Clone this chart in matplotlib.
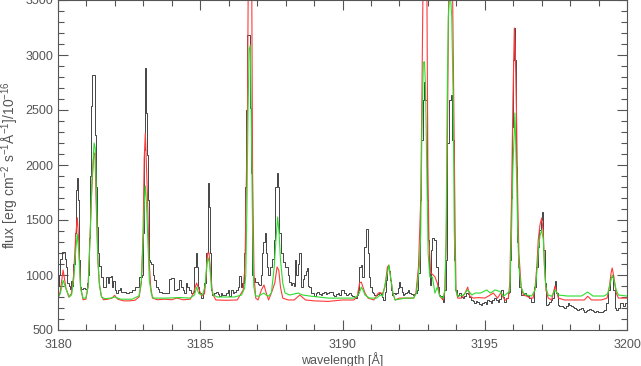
import matplotlib.pyplot as plt
from matplotlib.ticker import MultipleLocator

# observed spectrum (black histogram)
obs_wl = [3180.00, 3180.05, 3180.10, 3180.15, 3180.22, 3180.27, 3180.31, 3180.35, 3180.40, 3180.44,
          3180.48, 3180.52, 3180.56, 3180.60, 3180.64, 3180.68, 3180.71, 3180.75, 3180.80, 3180.85,
          3180.92, 3180.98, 3181.04, 3181.08, 3181.11, 3181.15, 3181.18, 3181.23, 3181.29, 3181.32,
          3181.36, 3181.39, 3181.43, 3181.48, 3181.54, 3181.59, 3181.65, 3181.71, 3181.77, 3181.83,
          3181.89, 3181.93, 3181.97, 3182.01, 3182.07, 3182.13, 3182.20, 3182.26, 3182.35, 3182.45,
          3182.55, 3182.65, 3182.78, 3182.90, 3182.97, 3183.00, 3183.03, 3183.06, 3183.09, 3183.11,
          3183.14, 3183.18, 3183.21, 3183.26, 3183.31, 3183.36, 3183.41, 3183.47, 3183.53, 3183.58,
          3183.64, 3183.70, 3183.76, 3183.82, 3183.88, 3183.94, 3184.00, 3184.06, 3184.11, 3184.17,
          3184.23, 3184.29, 3184.35, 3184.41, 3184.47, 3184.52, 3184.58, 3184.64, 3184.70, 3184.76,
          3184.82, 3184.87, 3184.91, 3184.95, 3184.99, 3185.05, 3185.11, 3185.17, 3185.23, 3185.28,
          3185.32, 3185.35, 3185.40, 3185.46, 3185.52, 3185.58, 3185.64, 3185.69, 3185.75, 3185.81,
          3185.87, 3185.93, 3185.99, 3186.05, 3186.11, 3186.16, 3186.22, 3186.28, 3186.34, 3186.40,
          3186.46, 3186.51, 3186.56, 3186.60, 3186.64, 3186.68, 3186.73, 3186.77, 3186.80, 3186.84,
          3186.90, 3186.98, 3187.05, 3187.10, 3187.15, 3187.20, 3187.24, 3187.28, 3187.32, 3187.37,
          3187.42, 3187.49, 3187.55, 3187.60, 3187.66, 3187.72, 3187.76, 3187.79, 3187.86, 3187.95,
          3188.04, 3188.10, 3188.15, 3188.21, 3188.27, 3188.31, 3188.35, 3188.40, 3188.46, 3188.51,
          3188.57, 3188.62, 3188.67, 3188.73, 3188.78, 3188.82, 3188.86, 3188.92, 3188.97, 3189.03,
          3189.09, 3189.15, 3189.21, 3189.27, 3189.32, 3189.38, 3189.44, 3189.50, 3189.56, 3189.62,
          3189.68, 3189.74, 3189.80, 3189.85, 3189.91, 3189.97, 3190.03, 3190.09, 3190.15, 3190.21,
          3190.26, 3190.32, 3190.38, 3190.43, 3190.47, 3190.52, 3190.56, 3190.61, 3190.67, 3190.73,
          3190.79, 3190.85, 3190.91, 3190.94, 3191.00, 3191.04, 3191.08, 3191.14, 3191.20, 3191.26,
          3191.32, 3191.38, 3191.42, 3191.46, 3191.51, 3191.55, 3191.60, 3191.65, 3191.69, 3191.73,
          3191.77, 3191.81, 3191.86, 3191.91, 3191.96, 3192.00, 3192.06, 3192.10, 3192.14, 3192.19,
          3192.23, 3192.27, 3192.31, 3192.36, 3192.40, 3192.45, 3192.49, 3192.54, 3192.58, 3192.64,
          3192.70, 3192.75, 3192.79, 3192.84, 3192.89, 3192.93, 3192.98, 3193.02, 3193.05, 3193.09,
          3193.13, 3193.19, 3193.25, 3193.31, 3193.37, 3193.42, 3193.46, 3193.50, 3193.54, 3193.60,
          3193.66, 3193.72, 3193.78, 3193.84, 3193.88, 3193.93, 3193.98, 3194.05, 3194.09, 3194.13,
          3194.19, 3194.25, 3194.31, 3194.37, 3194.42, 3194.48, 3194.54, 3194.60, 3194.66, 3194.72,
          3194.77, 3194.83, 3194.89, 3194.95, 3195.01, 3195.07, 3195.12, 3195.18, 3195.24, 3195.30,
          3195.36, 3195.42, 3195.48, 3195.54, 3195.60, 3195.66, 3195.71, 3195.77, 3195.83, 3195.88,
          3195.92, 3195.95, 3195.98, 3196.01, 3196.04, 3196.09, 3196.12, 3196.15, 3196.18, 3196.24,
          3196.32, 3196.41, 3196.47, 3196.53, 3196.59, 3196.65, 3196.71, 3196.77, 3196.83, 3196.88,
          3196.94, 3197.00, 3197.04, 3197.08, 3197.13, 3197.20, 3197.25, 3197.29, 3197.34, 3197.39,
          3197.45, 3197.49, 3197.53, 3197.59, 3197.65, 3197.71, 3197.77, 3197.82, 3197.88, 3197.94,
          3198.00, 3198.06, 3198.11, 3198.17, 3198.23, 3198.29, 3198.35, 3198.41, 3198.47, 3198.52,
          3198.58, 3198.64, 3198.70, 3198.76, 3198.82, 3198.88, 3198.94, 3198.99, 3199.05, 3199.11,
          3199.17, 3199.23, 3199.31, 3199.38, 3199.44, 3199.48, 3199.54, 3199.59, 3199.66, 3199.73,
          3199.81, 3199.89, 3199.98]
obs_flux = [900, 1000, 1150, 1210, 1210, 1150, 1070, 930, 900, 870,
            950, 900, 1100, 1380, 1770, 1880, 1680, 1140, 890, 870,
            880, 870, 930, 1000, 1340, 1900, 2540, 2820, 2820, 2270,
            1800, 1440, 1200, 1080, 980, 890, 890, 980, 930, 980,
            990, 890, 950, 860, 840, 860, 880, 850, 850, 840,
            850, 860, 890, 980, 1000, 1380, 2140, 2880, 2880, 2470,
            2090, 1680, 1140, 1120, 1100, 1000, 955, 890, 870, 850,
            845, 836, 836, 840, 836, 960, 975, 970, 864, 864,
            870, 955, 890, 864, 836, 927, 890, 864, 836, 850,
            1073, 1200, 1073, 890, 836, 791, 836, 927, 1200, 1836,
            1620, 1200, 864, 818, 836, 850, 830, 807, 836, 818,
            818, 836, 864, 807, 864, 836, 850, 864, 890, 990,
            890, 927, 1200, 1800, 2500, 3180, 3180, 2520, 1930, 1000,
            973, 936, 920, 909, 1000, 1200, 1300, 1382, 1200, 1073,
            1000, 1073, 1150, 1318, 1800, 1927, 1800, 1382, 1200, 1118,
            1073, 1000, 936, 909, 927, 900, 1136, 1000, 1100, 1200,
            890, 960, 1000, 1040, 1064, 900, 890, 836, 840, 807,
            840, 850, 830, 818, 840, 850, 830, 836, 845, 850,
            820, 807, 830, 836, 820, 864, 860, 840, 818, 830,
            836, 820, 807, 800, 790, 820, 864, 1073, 1090, 982,
            1255, 1418, 1200, 982, 890, 850, 836, 820, 818, 830,
            840, 830, 800, 773, 850, 955, 1073, 1040, 955, 860,
            818, 836, 830, 836, 880, 936, 890, 850, 818, 830,
            836, 850, 864, 840, 836, 830, 818, 825, 836, 860,
            1018, 1682, 2227, 2590, 2755, 2590, 1682, 1318, 1018, 909,
            1227, 1336, 1320, 1073, 890, 820, 807, 780, 755, 864,
            1136, 2200, 2590, 2636, 2227, 1136, 864, 807, 820, 836,
            800, 790, 810, 836, 830, 800, 773, 760, 745, 760,
            755, 740, 727, 745, 755, 740, 773, 760, 745, 770,
            790, 770, 755, 780, 864, 800, 755, 790, 836, 850,
            1136, 1700, 2345, 2955, 3245, 2955, 1982, 1300, 1073, 890,
            818, 836, 820, 807, 790, 755, 755, 890, 1073, 1255,
            1409, 1500, 1573, 1227, 927, 727, 740, 755, 770, 790,
            890, 945, 836, 727, 720, 718, 705, 700, 720, 745,
            730, 718, 710, 700, 690, 682, 695, 700, 680, 664,
            675, 682, 690, 682, 670, 664, 670, 664, 660, 664,
            675, 682, 745, 864, 982, 1000, 864, 700, 682, 700,
            745, 718, 745]

# model 1 (red)
red_wl = [3180.00, 3180.08, 3180.18, 3180.28, 3180.38, 3180.47, 3180.55, 3180.62, 3180.68, 3180.73,
          3180.79, 3180.88, 3180.98, 3181.06, 3181.13, 3181.19, 3181.26, 3181.30, 3181.34, 3181.40,
          3181.45, 3181.52, 3181.60, 3181.75, 3181.90, 3181.99, 3182.10, 3182.30, 3182.50, 3182.70,
          3182.85, 3182.93, 3182.99, 3183.03, 3183.07, 3183.10, 3183.15, 3183.20, 3183.26, 3183.32,
          3183.50, 3183.75, 3184.00, 3184.17, 3184.40, 3184.65, 3184.76, 3184.87, 3184.94, 3185.05,
          3185.15, 3185.21, 3185.26, 3185.31, 3185.37, 3185.43, 3185.55, 3185.90, 3186.30, 3186.51,
          3186.57, 3186.61, 3186.66, 3186.70, 3186.75, 3186.80, 3186.84, 3186.89, 3186.95, 3187.03,
          3187.15, 3187.24, 3187.32, 3187.40, 3187.50, 3187.62, 3187.70, 3187.76, 3187.82, 3187.90,
          3188.09, 3188.30, 3188.50, 3188.70, 3189.00, 3189.50, 3190.00, 3190.40, 3190.52, 3190.60,
          3190.66, 3190.72, 3190.79, 3190.90, 3191.10, 3191.26, 3191.32, 3191.41, 3191.49, 3191.58,
          3191.63, 3191.69, 3191.77, 3191.85, 3192.00, 3192.30, 3192.50, 3192.58, 3192.67, 3192.75,
          3192.79, 3192.84, 3192.90, 3192.96, 3193.00, 3193.04, 3193.10, 3193.19, 3193.25, 3193.33,
          3193.42, 3193.54, 3193.60, 3193.65, 3193.69, 3193.74, 3193.80, 3193.86, 3193.91, 3193.96,
          3193.99, 3194.05, 3194.19, 3194.31, 3194.40, 3194.48, 3194.60, 3194.80, 3195.00, 3195.12,
          3195.30, 3195.45, 3195.56, 3195.71, 3195.83, 3195.88, 3195.94, 3195.99, 3196.04, 3196.08,
          3196.12, 3196.16, 3196.20, 3196.28, 3196.36, 3196.48, 3196.60, 3196.70, 3196.77, 3196.83,
          3196.88, 3196.94, 3197.00, 3197.06, 3197.10, 3197.15, 3197.23, 3197.35, 3197.47, 3197.59,
          3197.80, 3198.20, 3198.50, 3198.62, 3198.75, 3199.10, 3199.30, 3199.38, 3199.44, 3199.48,
          3199.54, 3199.62, 3199.70, 3200.00]
red_flux = [790, 850, 1045, 880, 800, 830, 1000, 1350, 1520, 1300,
            900, 775, 780, 900, 1380, 1800, 2110, 2100, 1680, 1140,
            930, 810, 775, 780, 790, 815, 780, 765, 765, 770,
            800, 930, 1380, 2060, 2290, 2060, 1680, 1140, 890, 790,
            775, 780, 775, 790, 775, 780, 836, 927, 880, 807,
            830, 1000, 1200, 1200, 1000, 830, 773, 770, 773, 864,
            1073, 1682, 2536, 4200, 4600, 4200, 1927, 1000, 790, 773,
            864, 909, 836, 773, 836, 927, 1073, 1045, 890, 790,
            773, 773, 818, 773, 765, 760, 773, 773, 807, 927,
            936, 890, 836, 790, 773, 836, 840, 830, 890, 1073,
            1090, 982, 836, 773, 790, 790, 790, 836, 1073, 1682,
            2590, 3900, 4300, 3900, 2000, 1300, 1018, 1000, 982, 927,
            807, 773, 864, 1382, 2317, 3800, 4300, 3800, 2590, 1382,
            864, 790, 790, 836, 890, 807, 790, 795, 790, 807,
            836, 790, 836, 770, 790, 927, 1682, 2590, 3245, 2955,
            2400, 1682, 1200, 890, 818, 807, 790, 790, 890, 1073,
            1318, 1455, 1518, 1382, 1073, 864, 790, 773, 900, 790,
            773, 773, 773, 807, 773, 773, 790, 890, 1018, 1064,
            982, 836, 790, 790]

# model 2 (green)
grn_wl = [3180.00, 3180.08, 3180.18, 3180.30, 3180.40, 3180.48, 3180.56, 3180.63, 3180.68, 3180.73,
          3180.80, 3180.88, 3180.98, 3181.06, 3181.13, 3181.20, 3181.27, 3181.31, 3181.35, 3181.40,
          3181.46, 3181.53, 3181.65, 3181.85, 3182.00, 3182.20, 3182.60, 3182.85, 3182.93, 3182.99,
          3183.04, 3183.07, 3183.11, 3183.16, 3183.21, 3183.28, 3183.35, 3183.80, 3184.30, 3184.65,
          3184.80, 3184.87, 3184.95, 3185.08, 3185.17, 3185.23, 3185.28, 3185.33, 3185.39, 3185.46,
          3185.60, 3186.20, 3186.45, 3186.56, 3186.60, 3186.64, 3186.68, 3186.72, 3186.76, 3186.80,
          3186.84, 3186.88, 3186.94, 3187.05, 3187.23, 3187.32, 3187.40, 3187.50, 3187.60, 3187.66,
          3187.72, 3187.77, 3187.82, 3187.90, 3187.98, 3188.15, 3188.44, 3188.60, 3188.90, 3189.50,
          3190.40, 3190.52, 3190.59, 3190.66, 3190.72, 3190.79, 3190.95, 3191.20, 3191.32, 3191.41,
          3191.55, 3191.63, 3191.69, 3191.77, 3191.85, 3192.20, 3192.50, 3192.60, 3192.70, 3192.75,
          3192.79, 3192.84, 3192.88, 3192.92, 3192.96, 3193.01, 3193.07, 3193.16, 3193.25, 3193.33,
          3193.42, 3193.54, 3193.60, 3193.64, 3193.68, 3193.72, 3193.78, 3193.84, 3193.89, 3193.93,
          3193.98, 3194.05, 3194.25, 3194.40, 3194.55, 3194.66, 3194.85, 3195.07, 3195.20, 3195.36,
          3195.54, 3195.66, 3195.80, 3195.88, 3195.94, 3195.99, 3196.06, 3196.11, 3196.16, 3196.20,
          3196.28, 3196.36, 3196.48, 3196.65, 3196.77, 3196.83, 3196.88, 3196.94, 3197.00, 3197.06,
          3197.10, 3197.15, 3197.23, 3197.35, 3197.47, 3197.59, 3197.90, 3198.40, 3198.62, 3198.80,
          3199.20, 3199.32, 3199.38, 3199.44, 3199.48, 3199.54, 3199.62, 3199.70, 3200.00]
grn_flux = [790, 830, 950, 860, 800, 820, 980, 1250, 1370, 1200,
            870, 790, 790, 900, 1350, 1900, 2200, 2150, 1700, 1150,
            900, 800, 785, 790, 800, 780, 780, 810, 950, 1300,
            1700, 1810, 1650, 1300, 950, 830, 790, 790, 795, 790,
            820, 890, 830, 818, 900, 1100, 1155, 1100, 890, 818,
            800, 800, 818, 880, 1000, 1600, 2500, 3050, 3090, 2300,
            1400, 900, 810, 807, 836, 818, 807, 836, 1073, 1318,
            1527, 1382, 1136, 927, 836, 818, 836, 818, 807, 790,
            790, 810, 836, 890, 864, 818, 790, 790, 818, 807,
            982, 1090, 982, 836, 773, 790, 790, 836, 1073, 1382,
            2317, 2930, 2940, 2700, 2000, 1200, 982, 982, 835, 890,
            807, 790, 864, 1300, 2600, 3350, 3600, 3350, 2590, 1382,
            864, 807, 818, 864, 818, 836, 836, 864, 836, 864,
            850, 807, 836, 850, 1382, 1982, 2473, 1982, 1382, 1073,
            890, 836, 818, 809, 864, 1018, 1200, 1355, 1409, 1318,
            1073, 890, 818, 807, 864, 818, 809, 809, 845, 809,
            809, 830, 890, 955, 1000, 955, 864, 818, 809]

plt.rcParams['mathtext.fontset'] = 'custom'
plt.rcParams['mathtext.rm'] = 'Liberation Sans'
plt.rcParams['mathtext.it'] = 'Liberation Sans'

fig = plt.figure(figsize=(6.41, 3.66), dpi=100)
ax = fig.add_axes([58 / 641, 36 / 366, 569 / 641, 330 / 366])

ax.plot(obs_wl, obs_flux, color='#444444', lw=0.7, drawstyle='steps-mid')
ax.plot(red_wl, red_flux, color='#ff3a3a', lw=0.8)
ax.plot(grn_wl, grn_flux, color='#2ddd2d', lw=0.8)

ax.set_xlim(3180, 3200)
ax.set_ylim(500, 3500)
ax.xaxis.set_major_locator(MultipleLocator(5))
ax.xaxis.set_minor_locator(MultipleLocator(1))
ax.yaxis.set_major_locator(MultipleLocator(500))
ax.yaxis.set_minor_locator(MultipleLocator(100))

txt = '#555555'
for s in ax.spines.values():
    s.set_color(txt)
    s.set_linewidth(0.8)
ax.tick_params(which='both', direction='in', top=True, right=True,
               colors=txt, labelcolor=txt, labelsize=9, width=0.8)
ax.tick_params(which='major', length=7.5)
ax.tick_params(which='minor', length=4)
ax.tick_params(axis='x', pad=6.5)
ax.tick_params(axis='y', pad=3.5)
for lab in ax.get_xticklabels() + ax.get_yticklabels():
    lab.set_family('Liberation Sans')

ax.set_xlabel('wavelength [Å]', color=txt, fontsize=9, family='Liberation Sans')
ax.xaxis.label.set_va('center')
ax.xaxis.set_label_coords(0.5, -0.088)
ax.set_ylabel(r'flux [erg cm$^{-2}$ s$^{-1}$Å$^{-1}$]/10$^{-16}$', color=txt, fontsize=10,
              family='Liberation Sans', labelpad=3)

fig.savefig('out.png', dpi=100)
